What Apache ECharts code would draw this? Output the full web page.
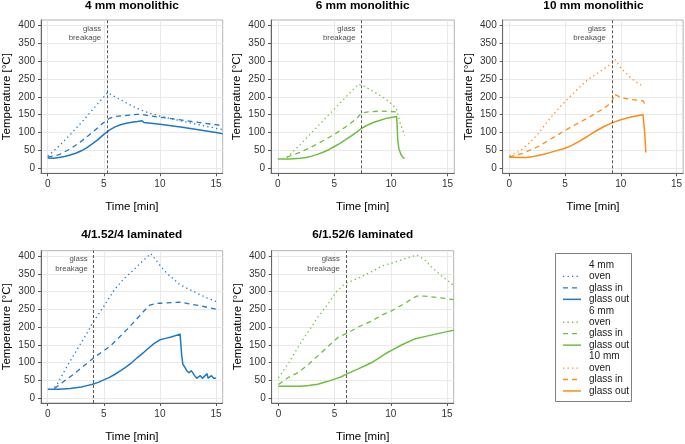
<!DOCTYPE html>
<html>
<head>
<meta charset="utf-8">
<script src="https://cdn.jsdelivr.net/npm/echarts@6/dist/echarts.min.js"></script>
<style>
html,body{margin:0;padding:0;background:#fff;}
#c{width:685px;height:444px;}
</style>
</head>
<body>
<div id="c"></div>
<script>
// ---------- DATA ----------
const panelTitles = ['4 mm monolithic', '6 mm monolithic', '10 mm monolithic', '4/1.52/4 laminated', '6/1.52/6 laminated'];
const breakTimes = [5.3, 7.4, 9.2, 4.1, 6.0];
const xTicks = [0, 5, 10, 15];
const yTicks = [0, 50, 100, 150, 200, 250, 300, 350, 400];
const legendGroups = ['4 mm', '6 mm', '10 mm'];
const legendItems = ['oven', 'glass in', 'glass out'];
const breakLabel = 'glass\nbreakage';

// 4 mm monolithic
const mono4_oven = [[0,34],[1,62],[2,94],[3,128],[4,164],[5,200],[5.35,212],[6,200],[7,183],[8,167],[9,155],[10,146],[11,139],[12,132],[13,125],[14,118],[15,112],[15.6,108]];
const mono4_in = [[0,31],[1,38],[2,54],[3,76],[4,101],[5,128],[5.5,140],[6,145],[7,148],[8,151],[8.5,150],[9,147],[10,143],[11,139],[12,135],[13,130],[14,126],[15,122],[15.6,119]];
const mono4_out = [[0,29],[0.5,28],[1,30],[1.5,33],[2,37],[2.5,42],[3,49],[3.5,58],[4,69],[4.5,81],[5,95],[5.5,107],[6,116],[6.5,122],[7,126],[7.5,129],[8,131],[8.4,133],[8.6,128],[9,127],[10,123],[11,119],[12,115],[13,110],[14,105],[15,100],[15.6,97]];
// 6 mm monolithic
const mono6_oven = [[0.8,30],[2,67],[3,100],[4,133],[5,166],[6,199],[7.1,235],[7.5,232],[8.5,214],[9.5,195],[10.2,176],[10.5,165],[10.8,128],[11.2,92]];
const mono6_in = [[0.8,31],[2,45],[3,60],[4,77],[5,95],[6,116],[7,140],[7.4,155],[8,158],[9,160],[10,159],[10.4,158],[10.6,150]];
const mono6_out = [[0,26],[1,26],[2,28],[2.5,30],[3,34],[3.5,39],[4,45],[4.5,52],[5,61],[5.5,70],[6,80],[6.5,91],[7,102],[7.4,112],[8,122],[8.5,129],[9,134],[9.5,139],[10,142],[10.5,145],[10.55,120],[10.6,80],[10.7,55],[10.9,38],[11.1,29],[11.2,27]];
// 10 mm monolithic
const mono10_oven = [[0,35],[0.9,47],[1.8,71],[2.6,97],[3.5,134],[4.4,167],[5.3,196],[6.2,224],[7,247],[7.9,266],[8.8,285],[9.2,294],[9.5,304],[10,281],[11,250],[12,229]];
const mono10_in = [[0,32],[1.2,42],[2.6,61],[4.1,89],[5.6,117],[7,140],[8.5,168],[9.2,185],[9.4,207],[9.6,205],[10,198],[11,192],[12,189],[12.15,180]];
const mono10_out = [[0,31],[1,30],[1.5,30],[2,32],[2.6,36],[3.3,41],[4.1,48],[5,56],[5.6,64],[6.3,76],[7,89],[7.7,103],[8.5,117],[9.2,127],[10,136],[11,144],[12,150],[12.1,152],[12.15,100],[12.25,44]];
// 4/1.52/4 laminated
const lam4_oven = [[0.6,30],[0.86,40],[1.75,91],[2.64,138],[3.53,184],[4.07,215],[5,258],[5.9,303],[6.8,337],[7.7,362],[8.6,390],[9.2,407],[10,374],[10.6,352],[11.8,319],[13,300],[14.2,282],[15,272]];
const lam4_in = [[0.6,27],[0.86,33],[2.34,68],[4.13,114],[5.6,147],[7.1,194],[8.58,245],[9.1,262],[9.6,266],[10,267],[11,269],[11.8,270],[12.5,266],[13.6,260],[14.3,255],[15,250]];
const lam4_out = [[0,25],[1,25],[2,27],[2.5,29],[3,31],[3.5,35],[4,39],[4.5,44],[5,51],[5.5,58],[6,67],[6.5,77],[7,88],[7.5,100],[8,114],[8.5,127],[9,141],[9.5,154],[10,164],[10.5,168],[11,172],[11.8,180],[11.87,150],[11.95,119],[12.05,95],[12.2,88],[12.4,77],[12.6,71],[12.8,77],[13.1,63],[13.3,56],[13.6,63],[13.8,56],[14.2,68],[14.3,56],[14.6,63],[14.8,56],[15,56]];
// 6/1.52/6 laminated
const lam6_oven = [[0,57],[0.94,100],[1.82,147],[2.7,189],[3.58,231],[4.47,268],[5.2,301],[5.94,322],[7.1,338],[8.3,356],[9.3,373],[10.1,380],[11.2,392],[12.3,403],[13,390],[13.6,370],[14.5,345],[15.6,317]];
const lam6_in = [[0,38],[0.35,46],[0.94,59],[1.82,73],[2.7,96],[3.58,121],[4.47,147],[5.35,172],[6.09,182],[7.1,200],[8.3,217],[9.3,235],[10.1,246],[11.2,266],[12.3,287],[13,287],[13.6,285],[14.5,282],[15.6,277]];
const lam6_out = [[0,33],[1,33],[2,33],[2.7,35],[3.5,39],[4.17,45],[4.6,49],[5.06,54],[5.6,60],[6.09,68],[6.6,75],[7.1,82],[7.7,91],[8.3,100],[8.9,112],[9.47,124],[10.1,135],[11,150],[12.1,166],[13,173],[14,180],[15,187],[15.6,191]];

// ---------- STYLE / LAYOUT ----------
const FONT = 'Liberation Sans';
const COLORS = { blue: '#1f78c4', green: '#6cbf3c', orange: '#ff8a14' };
const panels = [
  { data: [mono4_oven, mono4_in, mono4_out], color: COLORS.blue,   grid: { left: 41,    top: 20,    width: 181.7, height: 153.3 } },
  { data: [mono6_oven, mono6_in, mono6_out], color: COLORS.green,  grid: { left: 271,   top: 20,    width: 183.3, height: 153.3 } },
  { data: [mono10_oven, mono10_in, mono10_out], color: COLORS.orange, grid: { left: 502.7, top: 20, width: 181.6, height: 153.3 } },
  { data: [lam4_oven, lam4_in, lam4_out], color: COLORS.blue,     grid: { left: 40.7,  top: 250.7, width: 182,   height: 153.6 } },
  { data: [lam6_oven, lam6_in, lam6_out], color: COLORS.green,    grid: { left: 271.7, top: 250.7, width: 182,   height: 153.6 } }
];
const lineTypes = [[1.3, 3.2], [5, 4], 'solid'];
const lineWidths = [1.3, 1.3, 1.5];

const grids = [], xAxes = [], yAxes = [], series = [], graphics = [];
panels.forEach((p, i) => {
  grids.push(Object.assign({ show: true, borderColor: '#b3b3b3', borderWidth: 1, backgroundColor: '#fff', containLabel: false }, p.grid));
  xAxes.push({
    type: 'value', gridIndex: i, min: -0.6, max: 15.6,
    name: 'Time [min]', nameLocation: 'middle', nameGap: 28,
    nameTextStyle: { fontFamily: FONT, fontSize: 11.5, color: '#000' },
    axisLine: { show: true, onZero: false, lineStyle: { color: '#666', width: 1 } },
    axisTick: { show: true, length: 3, customValues: xTicks, lineStyle: { color: '#555' } },
    axisLabel: { customValues: xTicks, margin: 6, fontFamily: FONT, fontSize: 10, color: '#333' },
    splitLine: { show: true, lineStyle: { color: '#e6e6e6', width: 0.9 } }
  });
  yAxes.push({
    type: 'value', gridIndex: i, min: -14, max: 415,
    name: 'Temperature [°C]', nameLocation: 'middle', nameGap: 28,
    nameTextStyle: { fontFamily: FONT, fontSize: 11.5, color: '#000' },
    axisLine: { show: true, onZero: false, lineStyle: { color: '#666', width: 1 } },
    axisTick: { show: true, length: 3, customValues: yTicks, lineStyle: { color: '#555' } },
    axisLabel: { customValues: yTicks, margin: 6, fontFamily: FONT, fontSize: 10, color: '#333' },
    splitLine: { show: true, lineStyle: { color: '#e6e6e6', width: 0.9 } }
  });
  p.data.forEach((d, k) => {
    const s = {
      type: 'line', xAxisIndex: i, yAxisIndex: i, data: d, showSymbol: false, symbol: 'none',
      clip: true, silent: true, z: 3,
      lineStyle: { color: p.color, width: lineWidths[k], type: lineTypes[k], join: 'round' }
    };
    if (k === 0) {
      s.markLine = {
        silent: true, symbol: ['none', 'none'], animation: false,
        label: { show: false },
        lineStyle: { color: '#444', width: 0.9, type: [3, 2] },
        data: [{ xAxis: breakTimes[i] }]
      };
    }
    series.push(s);
  });
  // glass breakage annotation
  series.push({
    type: 'scatter', xAxisIndex: i, yAxisIndex: i, symbolSize: 0, silent: true,
    data: [[breakTimes[i], 378]],
    label: { show: true, position: 'left', distance: 6, formatter: breakLabel,
      fontFamily: FONT, fontSize: 7.8, lineHeight: 9.2, color: '#222' }
  });
  // panel title
  const cx = p.grid.left + p.grid.width / 2;
  const cy = p.grid.top - (i < 3 ? 14.5 : 15.5);
  graphics.push({ type: 'text', x: cx, y: cy, style: { text: panelTitles[i], fontFamily: FONT, fontWeight: 'bold', fontSize: 11.8, fill: '#000', textAlign: 'center', textVerticalAlign: 'middle' } });
});

// legend (drawn as graphic)
const legColors = [COLORS.blue, COLORS.green, COLORS.orange];
graphics.push({ type: 'rect', shape: { x: 555.5, y: 253.5, width: 76, height: 148 }, style: { fill: '#fff', stroke: '#7f7f7f', lineWidth: 1 } });
let ly = 265;
const step = 11.45;
legendGroups.forEach((g, gi) => {
  graphics.push({ type: 'text', x: 589, y: ly, style: { text: g, fontFamily: FONT, fontSize: 10, fill: '#1a1a1a', textVerticalAlign: 'middle' } });
  ly += step;
  legendItems.forEach((it, k) => {
    graphics.push({ type: 'line', shape: { x1: 563, y1: ly, x2: 581, y2: ly },
      style: { stroke: legColors[gi], lineWidth: lineWidths[k], lineDash: k === 2 ? null : lineTypes[k] } });
    graphics.push({ type: 'text', x: 589, y: ly, style: { text: it, fontFamily: FONT, fontSize: 10, fill: '#1a1a1a', textVerticalAlign: 'middle' } });
    ly += step;
  });
});

const chart = echarts.init(document.getElementById('c'), null, { renderer: 'canvas' });
chart.setOption({
  animation: false,
  backgroundColor: '#fff',
  textStyle: { fontFamily: FONT },
  grid: grids, xAxis: xAxes, yAxis: yAxes, series: series,
  graphic: { elements: graphics }
});
</script>
</body>
</html>
